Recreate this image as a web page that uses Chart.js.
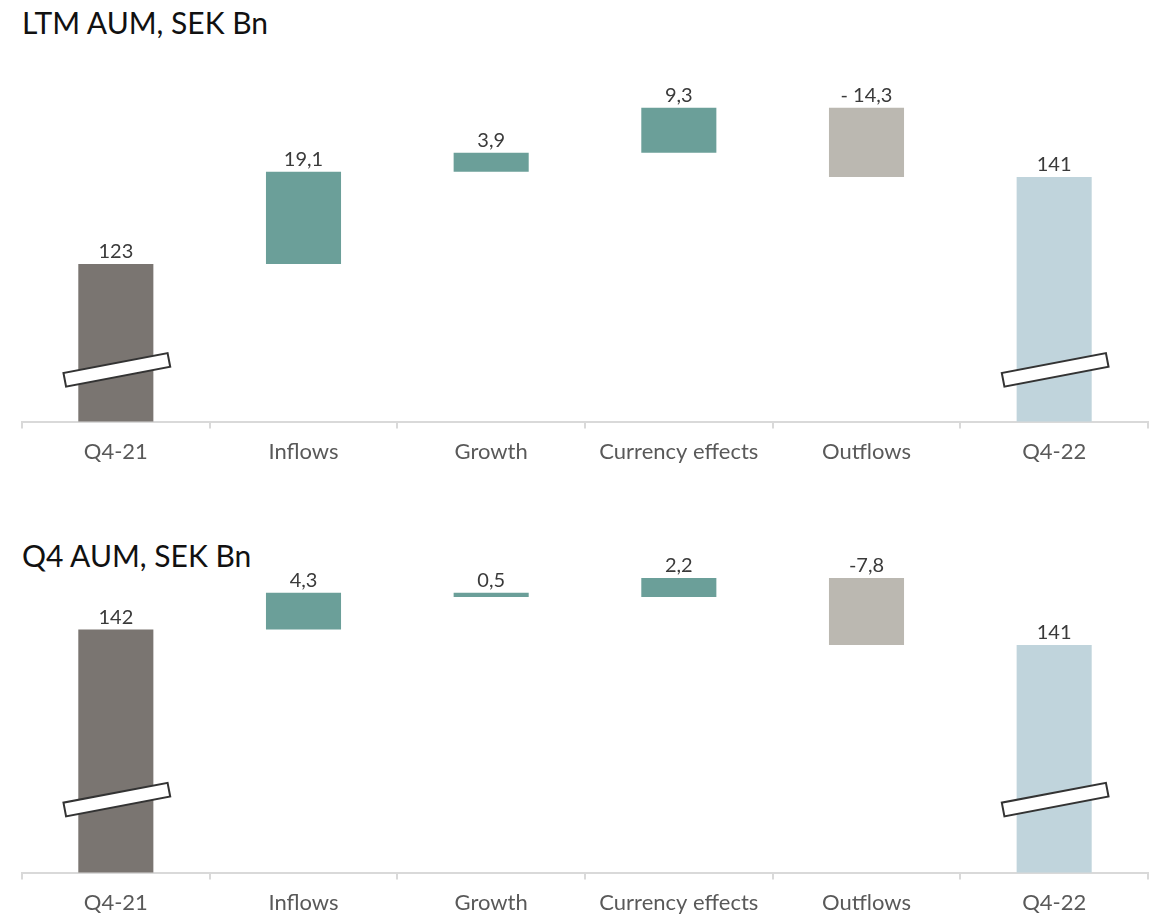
<!DOCTYPE html>
<html>
<head>
<meta charset="utf-8">
<script src="https://cdn.jsdelivr.net/npm/chart.js@4"></script>
<style>
  body { margin: 0; background: #fff; width: 1158px; height: 916px; position: relative; overflow: hidden; }
  .title { position: absolute; left: 22px; font-family: Lato, sans-serif; font-size: 30px; color: #111; line-height: 1; }
  .box { position: absolute; left: 0; width: 1158px; }
</style>
</head>
<body>
<div class="title" style="top: 7px;">LTM AUM, SEK Bn</div>
<div class="box" style="top: 0; height: 479px;"><canvas id="ltmChart"></canvas></div>
<div class="title" style="top: 540px;">Q4 AUM, SEK Bn</div>
<div class="box" style="top: 480px; height: 450px;"><canvas id="q4Chart"></canvas></div>

<script>
const categories = ['Q4-21', 'Inflows', 'Growth', 'Currency effects', 'Outflows', 'Q4-22'];

// LTM waterfall, SEK Bn (bar bottom / bar top)
const ltmLow = [0, 123, 142.1, 146.0, 141.0, 0];
const ltmHigh = [123, 142.1, 146.0, 155.3, 155.3, 141];
const ltmText = ['123', '19,1', '3,9', '9,3', '- 14,3', '141'];

// Q4 waterfall, SEK Bn
const q4Low = [0, 142, 145.8, 145.8, 140.2, 0];
const q4High = [142, 146.3, 146.3, 148.0, 148.0, 140.2];
const q4Text = ['142', '4,3', '0,5', '2,2', '-7,8', '141'];

const barColors = ['#7a7571', '#6b9f99', '#6b9f99', '#6b9f99', '#bbb8b1', '#c0d4dc'];

// labels above each bar
const valueLabels = {
  id: 'valueLabels',
  afterDatasetsDraw(chart, args, opts) {
    const ctx = chart.ctx;
    const meta = chart.getDatasetMeta(0);
    ctx.save();
    ctx.font = '20px Lato, sans-serif';
    ctx.fillStyle = '#3a3a3a';
    ctx.textAlign = 'center';
    ctx.textBaseline = 'bottom';
    meta.data.forEach((bar, i) => {
      const top = Math.min(bar.y, bar.base);
      ctx.fillText(opts.text[i], bar.x, top - 2);
    });
    ctx.restore();
  }
};

// axis break marks on the total bars
const breakMarks = {
  id: 'breakMarks',
  afterDatasetsDraw(chart, args, opts) {
    const ctx = chart.ctx;
    const meta = chart.getDatasetMeta(0);
    const y = chart.scales.y.getPixelForValue(opts.at);
    ctx.save();
    opts.bars.forEach(i => {
      const bar = meta.data[i];
      ctx.save();
      ctx.translate(bar.x + 1, y);
      ctx.rotate(-10.8 * Math.PI / 180);
      ctx.fillStyle = '#fff';
      ctx.strokeStyle = '#333';
      ctx.lineWidth = 2;
      ctx.fillRect(-53, -7, 106, 14);
      ctx.strokeRect(-53, -7, 106, 14);
      ctx.restore();
    });
    ctx.restore();
  }
};

function makeChart(id, low, high, text, yMin, yMax, breakAt) {
  const ctx = document.getElementById(id).getContext('2d');
  return new Chart(ctx, {
    type: 'bar',
    data: {
      labels: categories,
      datasets: [{
        data: low.map((v, i) => [v, high[i]]),
        backgroundColor: barColors,
        borderWidth: 0,
        barPercentage: 0.4,
        categoryPercentage: 1
      }]
    },
    plugins: [valueLabels, breakMarks],
    options: {
      responsive: true,
      maintainAspectRatio: false,
      animation: false,
      layout: { padding: { left: 22, right: 10, top: 80, bottom: 4 } },
      plugins: {
        legend: { display: false },
        tooltip: { enabled: false },
        valueLabels: { text: text },
        breakMarks: { bars: [0, 5], at: breakAt }
      },
      scales: {
        x: {
          grid: {
            drawOnChartArea: false,
            drawTicks: true,
            tickLength: 7,
            color: '#d9d9d9',
            lineWidth: 2,
            offset: true
          },
          border: { display: true, color: '#d9d9d9', width: 2 },
          ticks: {
            color: '#595959',
            font: { family: 'Lato', size: 22 },
            padding: 10
          }
        },
        y: {
          display: false,
          min: yMin,
          max: yMax
        }
      }
    }
  });
}

makeChart('ltmChart', ltmLow, ltmHigh, ltmText, 90.4, 161.06, 101.1);
makeChart('q4Chart', q4Low, q4High, q4Text, 113.7, 150.1, 122.2);
</script>
</body>
</html>
